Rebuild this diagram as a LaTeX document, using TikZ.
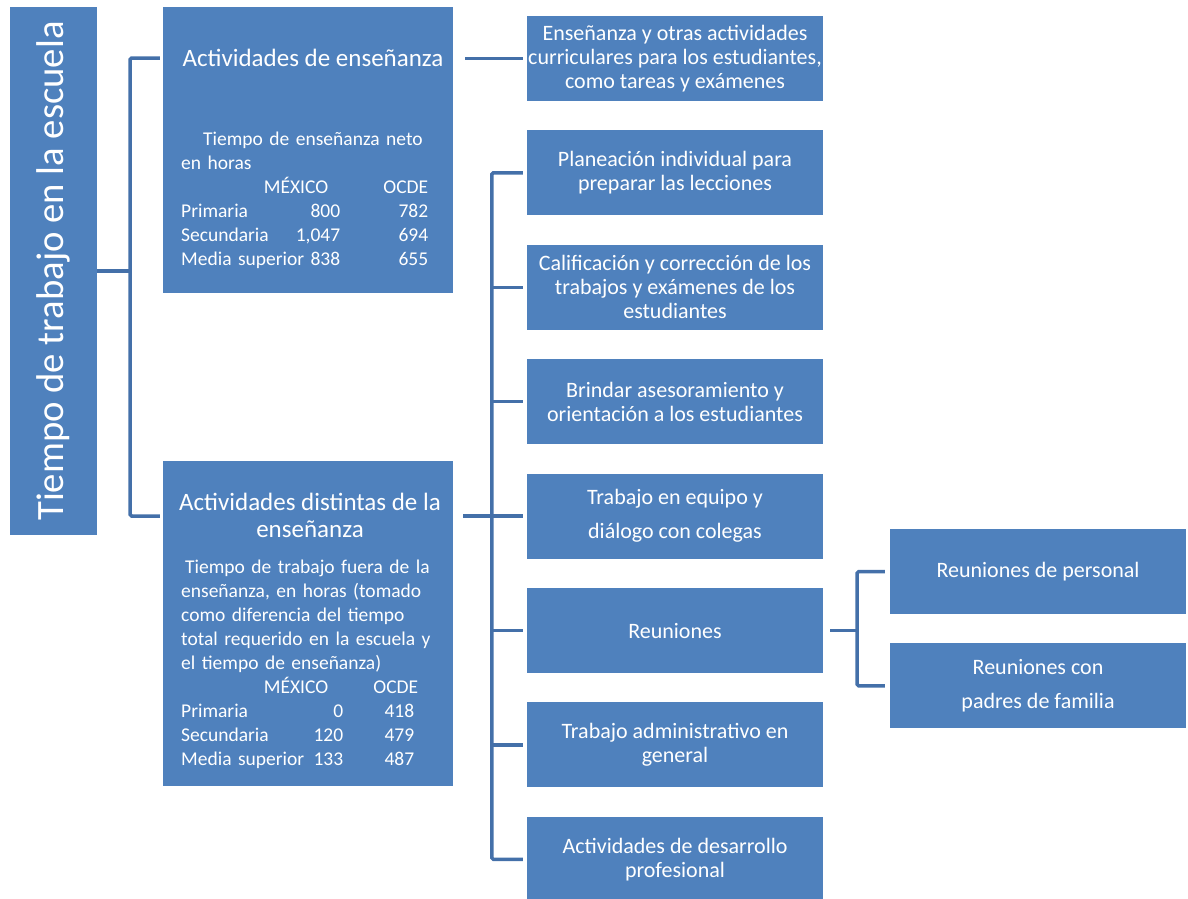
\documentclass[tikz,border=0pt]{standalone}
\usepackage{fontspec}
\setmainfont{Carlito}
\usetikzlibrary{positioning}
\definecolor{cajaazul}{HTML}{4F81BD}
\definecolor{lineaazul}{HTML}{4470A9}
\newcommand{\filaA}[3]{\makebox[122pt][l]{#1}\makebox[37pt][r]{#2}\makebox[88pt][r]{#3}}
\newcommand{\filaB}[3]{\makebox[130pt][l]{#1}\makebox[32pt][r]{#2}\makebox[71pt][r]{#3}}

\begin{document}
\begin{tikzpicture}[x=1pt,y=-1pt]
 \tikzset{main node/.style={rectangle, fill=cajaazul, text=white,
 		align=center, inner sep=0pt, minimum width=296pt, minimum height=85pt,
 		font=\fontsize{22}{24}\selectfont}, }
 \tikzset{big node/.style={rectangle, fill=cajaazul, inner sep=0pt,
 		minimum width=290pt}, }
 \tikzset{title node/.style={text=white, align=center, inner sep=0pt,
 		font=\fontsize{25}{27}\selectfont}, }
 \tikzset{tabla node/.style={text=white, align=left, inner sep=0pt,
 		text width=250pt, anchor=base west, font=\fontsize{19.5}{24}\selectfont}, }
 \tikzset{linea/.style={draw=lineaazul, line width=3.5pt, rounded corners=1.5pt},}
 \useasboundingbox (0,0) rectangle (1188,898);
 \node[rectangle, fill=cajaazul, inner sep=0pt, minimum width=87pt,
 	minimum height=528pt] (0) at (53.5,271) {};
 \node[rotate=90, text=white, font=\fontsize{38.7}{40}\selectfont] (raiz) at (0)
 	{Tiempo de trabajo en la escuela};
 \node[big node, minimum height=286pt] (1) at (308,150) {};
 \node[title node] (t1) at (313,58) {Actividades de enseñanza};
 \node[tabla node] (tab1) at (181,145) {\hspace*{22pt}Tiempo de enseñanza neto\\
 	en horas\\
 	\makebox[147pt][r]{MÉXICO}\makebox[100pt][r]{OCDE}\\
 	\filaA{Primaria}{800}{782}\\
 	\filaA{Secundaria}{1,047}{694}\\
 	\filaA{Media superior}{838}{655}};
 \node[big node, minimum height=325pt] (2) at (308,623.5) {};
 \node[title node] (t2) at (310,515) {Actividades distintas de la\\ enseñanza};
 \node[tabla node] (tab2) at (181,573) {\hspace*{4pt}Tiempo de trabajo fuera de la\\
 	enseñanza, en horas (tomado\\
 	como diferencia del tiempo\\
 	total requerido en la escuela y\\
 	el tiempo de enseñanza)\\
 	\makebox[147pt][r]{MÉXICO}\makebox[90pt][r]{OCDE}\\
 	\filaB{Primaria}{0}{418}\\
 	\filaB{Secundaria}{120}{479}\\
 	\filaB{Media superior}{133}{487}};
 \node[main node] (e) at (675,58.5) {Enseñanza y otras actividades\\
 	curriculares para los estudiantes,\\ como tareas y exámenes};
 \node[main node, below=29pt of e] (a1) {Planeación individual para\\
 	preparar las lecciones};
 \node[main node, below=29pt of a1] (a2) {Calificación y corrección de los\\
 	trabajos y exámenes de los\\ estudiantes};
 \node[main node, below=29pt of a2] (a3) {Brindar asesoramiento y\\
 	orientación a los estudiantes};
 \node[main node, below=29pt of a3] (a4) {Trabajo en equipo y\\[10pt]
 	diálogo con colegas};
 \node[main node, below=29pt of a4] (a5) {Reuniones};
 \node[main node, below=29pt of a5] (a6) {Trabajo administrativo en\\ general};
 \node[main node, below=29pt of a6] (a7) {Actividades de desarrollo\\ profesional};
 \node[main node] (s1) at (1038,571.5) {Reuniones de personal};
 \node[main node, below=29pt of s1] (s2) {Reuniones con\\[10pt] padres de familia};
 %% conectores
 \path (0.east) ++(33,0) coordinate (r0);
 \path (a4.west) ++(-35,0) coordinate (r2);
 \path (a5.east) ++(34,0) coordinate (r5);
 \draw[linea] (0.east) -- (r0);
 \draw[linea, shorten <=3pt, shorten >=3pt] (1.west |- t1) -| (r0) |- (2.west |- r2);
 \draw[linea, shorten <=12pt, shorten >=4pt] (1.east |- e) -- (e.west);
 \draw[linea, shorten <=10pt] (2.east |- r2) -- (r2);
 \draw[linea, shorten <=4pt, shorten >=4pt] (a1.west) -| (r2) |- (a7.west);
 \foreach \x in {2,...,6}
 \draw[linea, shorten >=4pt] (r2 |- a\x.west) -- (a\x.west);
 \draw[linea, shorten <=7pt] (a5.east) -- (r5);
 \draw[linea, shorten <=5pt, shorten >=5pt] (s1.west) -| (r5) |- (s2.west);
\end{tikzpicture}
\end{document}
